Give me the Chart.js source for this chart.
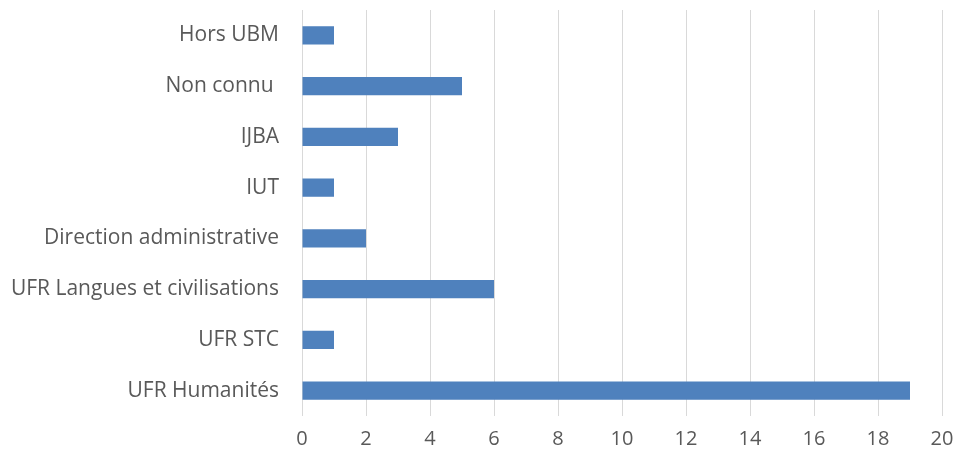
<!DOCTYPE html>
<html>
<head>
<meta charset="utf-8">
<script src="https://cdn.jsdelivr.net/npm/chart.js@4.4.0/dist/chart.umd.min.js"></script>
<style>
  html, body { margin: 0; padding: 0; background: #fff; }
  .chart_container { width: 956px; height: 457px; position: relative; }
</style>
</head>
<body>
<div class="chart_container">
  <canvas id="services"></canvas>
</div>

<script>
// categories, top to bottom
var categories = ["Hors UBM", "Non connu ", "IJBA", "IUT", "Direction administrative",
  "UFR Langues et civilisations", "UFR STC", "UFR Humanités"];
var counts = [1, 5, 3, 1, 2, 6, 1, 19];
var xTicks = [0, 2, 4, 6, 8, 10, 12, 14, 16, 18, 20];

var ctx = document.getElementById("services");
var chart = new Chart(ctx, {
  type: 'bar',
  data: {
    labels: categories,
    datasets: [{
      data: counts,
      backgroundColor: "#4f81bd",
      borderWidth: 0,
      barPercentage: 0.72,
      categoryPercentage: 0.5
    }]
  },
  options: {
    indexAxis: 'y',
    responsive: true,
    maintainAspectRatio: false,
    animation: false,
    layout: { padding: { top: 10, right: 0, bottom: 0, left: 10 } },
    plugins: {
      legend: { display: false },
      tooltip: { enabled: false }
    },
    scales: {
      x: {
        min: 0,
        max: 20,
        afterBuildTicks: function(axis) {
          axis.ticks = xTicks.map(function(v) { return { value: v }; });
        },
        afterFit: function(axis) {
          axis.height = 41;
          axis.paddingLeft = 0;
          axis.paddingRight = 14;
        },
        grid: { color: "#d9d9d9", lineWidth: 1, drawTicks: false },
        border: { display: false },
        ticks: {
          color: "#595959",
          padding: 11,
          font: { family: "Open Sans", size: 20 }
        }
      },
      y: {
        afterFit: function(axis) {
          axis.width = 302 - 10;
          axis.paddingTop = 0;
          axis.paddingBottom = 0;
        },
        grid: { display: false },
        border: { display: false },
        ticks: {
          color: "#595959",
          padding: 15,
          font: { family: "Open Sans", size: 21 }
        }
      }
    }
  }
});
</script>
</body>
</html>
